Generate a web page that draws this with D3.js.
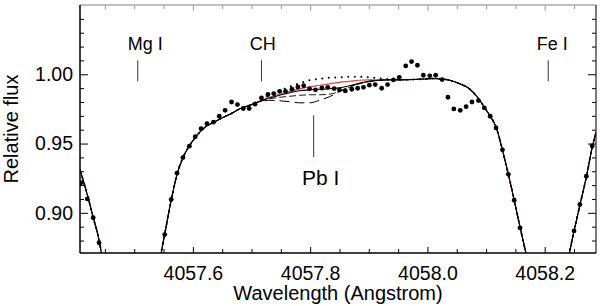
<!DOCTYPE html>
<meta charset="utf-8">

<!-- Load d3.js -->
<script src="https://d3js.org/d3.v7.min.js"></script>

<style>
  body { margin: 0; background: #fff; }
  text { font-family: "Liberation Sans", Arial, Helvetica, sans-serif; fill: #000; }
</style>

<!-- Create a div where the graph will take place -->
<div id="my_dataviz"></div>

<script>

// observed spectrum (wavelength in Angstrom, relative flux)
var obsWave = [4057.409, 4057.420, 4057.430, 4057.440,
  4057.552, 4057.563, 4057.573, 4057.583, 4057.594, 4057.604, 4057.614, 4057.624, 4057.635, 4057.645,
  4057.655, 4057.666, 4057.676, 4057.686, 4057.696, 4057.706, 4057.717, 4057.728, 4057.738, 4057.748,
  4057.758, 4057.769, 4057.779, 4057.789, 4057.799, 4057.809, 4057.820, 4057.830, 4057.841, 4057.850,
  4057.860, 4057.871, 4057.881, 4057.891, 4057.901, 4057.911, 4057.922, 4057.932, 4057.942, 4057.952,
  4057.963, 4057.973, 4057.983, 4057.993, 4058.004, 4058.014, 4058.025, 4058.035, 4058.045, 4058.056,
  4058.066, 4058.076, 4058.087, 4058.097, 4058.107, 4058.117, 4058.128, 4058.138, 4058.148, 4058.158,
  4058.250, 4058.260, 4058.271, 4058.281];
var obsFlux = [0.9217, 0.9100, 0.8965, 0.8784,
  0.8843, 0.9096, 0.9286, 0.9399, 0.9481, 0.9549, 0.9607, 0.9643, 0.9654, 0.9697,
  0.9740, 0.9800, 0.9781, 0.9753, 0.9753, 0.9784, 0.9829, 0.9854, 0.9861, 0.9877,
  0.9877, 0.9892, 0.9908, 0.9918, 0.9895, 0.9888, 0.9901, 0.9906, 0.9897, 0.9887,
  0.9880, 0.9892, 0.9899, 0.9906, 0.9921, 0.9926, 0.9899, 0.9926, 0.9959, 0.9978,
  1.0060, 1.0092, 1.0065, 0.9993, 0.9989, 0.9993, 0.9962, 0.9834, 0.9750, 0.9740,
  0.9766, 0.9800, 0.9810, 0.9758, 0.9697, 0.9613, 0.9455, 0.9278, 0.9091, 0.8891,
  0.8869, 0.9060, 0.9264, 0.9483];

// synthetic spectra: shared wings, different cores around the Pb I line
var wingLeftWave = [4057.405, 4057.409, 4057.421, 4057.429, 4057.440, 4057.444, 4057.452, 4057.493,
  4057.539, 4057.546, 4057.552, 4057.563, 4057.573, 4057.583, 4057.593, 4057.603, 4057.614,
  4057.624, 4057.634, 4057.644, 4057.654, 4057.665, 4057.680, 4057.697];
var wingLeftFlux = [0.934, 0.9288, 0.9115, 0.8983, 0.8802, 0.8709, 0.8478, 0.815,
  0.848, 0.8709, 0.8846, 0.9091, 0.9278, 0.9398, 0.9477, 0.9538, 0.9592,
  0.9628, 0.9650, 0.9672, 0.9693, 0.9715, 0.9751, 0.9776];

var coreWave = [4057.714, 4057.731, 4057.748, 4057.765, 4057.782, 4057.799, 4057.816,
  4057.833, 4057.850, 4057.867, 4057.884, 4057.901, 4057.918, 4057.935];
var coreBest = [0.9805, 0.9830, 0.9848, 0.9867, 0.9881, 0.9888, 0.9892, 0.9895, 0.9903, 0.9917, 0.9935, 0.9949, 0.9957, 0.9960];
var coreRed  = [0.9805, 0.9834, 0.9856, 0.9877, 0.9895, 0.9910, 0.9921, 0.9931, 0.9942, 0.9949, 0.9957, 0.9960, 0.9960, 0.9960];
var coreNoPb = [0.9812, 0.9852, 0.9881, 0.9910, 0.9935, 0.9957, 0.9968, 0.9975, 0.9978, 0.9982, 0.9982, 0.9978, 0.9971, 0.9964];
var coreMid  = [0.9802, 0.9823, 0.9834, 0.9841, 0.9848, 0.9852, 0.9852, 0.9856, 0.9877, 0.9906, 0.9931, 0.9949, 0.9957, 0.9960];
var coreHigh = [0.9802, 0.9812, 0.9809, 0.9802, 0.9794, 0.9794, 0.9812, 0.9838, 0.9874, 0.9910, 0.9935, 0.9949, 0.9957, 0.9960];

var wingRightWave = [4057.952, 4057.986, 4058.009, 4058.032, 4058.054, 4058.071, 4058.085, 4058.097,
  4058.106, 4058.117, 4058.128, 4058.138, 4058.148, 4058.158, 4058.168, 4058.182, 4058.204,
  4058.228, 4058.242, 4058.250, 4058.260, 4058.271, 4058.281, 4058.292];
var wingRightFlux = [0.9960, 0.9964, 0.9969, 0.9962, 0.9933, 0.9897, 0.9836, 0.9764,
  0.9704, 0.9620, 0.9452, 0.9278, 0.9091, 0.8896, 0.8709, 0.844, 0.830,
  0.844, 0.8709, 0.8867, 0.9055, 0.9257, 0.9473, 0.964];

// line identifications
var lineNames = ["Mg I", "CH", "Fe I"];
var lineWave  = [4057.506, 4057.717, 4058.206];
var labelWave = [4057.519, 4057.719, 4058.213];

// ticks
var xMajor = [4057.6, 4057.8, 4058.0, 4058.2];
var xMinor = [4057.45, 4057.5, 4057.55, 4057.65, 4057.7, 4057.75, 4057.85, 4057.9, 4057.95,
  4058.05, 4058.1, 4058.15, 4058.25];
var yMajor = [0.90, 0.95, 1.00];
var yMinor = [0.88, 0.89, 0.91, 0.92, 0.93, 0.94, 0.96, 0.97, 0.98, 0.99, 1.01, 1.02, 1.03, 1.04];

// set the dimensions and margins of the graph
var margin = {top: 5, right: 4, bottom: 53, left: 80},
    width = 600 - margin.left - margin.right,
    height = 306 - margin.top - margin.bottom;

var svg = d3.select("#my_dataviz")
  .append("svg")
    .attr("width", width + margin.left + margin.right)
    .attr("height", height + margin.top + margin.bottom)
  .append("g")
    .attr("transform", "translate(" + margin.left + "," + margin.top + ")");

var x = d3.scaleLinear().domain([4057.4075, 4058.2875]).range([0, width]);
var y = d3.scaleLinear().domain([0.871, 1.05]).range([height, 0]);

svg.append("clipPath").attr("id", "clip")
  .append("rect").attr("width", width).attr("height", height);

// axes, ticks pointing inward on all four sides
function tickAxis(axis, vals, size, cls) {
  return svg.append("g").attr("class", cls)
    .call(axis.tickValues(vals).tickSize(size).tickSizeOuter(0));
}

var fmtX = d3.format(".1f"), fmtY = d3.format(".2f");

var gx = tickAxis(d3.axisBottom(x).tickFormat(fmtX), xMajor, -6, "xaxis")
  .attr("transform", "translate(0," + height + ")");
gx.selectAll("text").attr("y", 27).attr("dy", 0).style("font-size", "19.5px");
tickAxis(d3.axisBottom(x).tickFormat(""), xMinor, -4, "xminor")
  .attr("transform", "translate(0," + height + ")");
tickAxis(d3.axisTop(x).tickFormat(""), xMajor, -6, "xtop");
tickAxis(d3.axisTop(x).tickFormat(""), xMinor, -4, "xtopminor");

var gy = tickAxis(d3.axisLeft(y).tickFormat(fmtY), yMajor, -8, "yaxis");
gy.selectAll("text").attr("x", -7).style("font-size", "19.5px");
tickAxis(d3.axisLeft(y).tickFormat(""), yMinor, -4, "yminor");
tickAxis(d3.axisRight(y).tickFormat(""), yMajor, -8, "yright")
  .attr("transform", "translate(" + width + ",0)");
tickAxis(d3.axisRight(y).tickFormat(""), yMinor, -4, "yrightminor")
  .attr("transform", "translate(" + width + ",0)");

svg.selectAll(".domain").remove();
svg.selectAll(".tick line").attr("stroke", "#000");
svg.selectAll(".xtop .tick line, .xtopminor .tick line").attr("stroke", "#999");

// frame
svg.append("line").attr("x1", 0).attr("x2", width).attr("y1", 0).attr("y2", 0)
  .attr("stroke", "#aaa").attr("stroke-width", 1.5);
svg.append("line").attr("x1", width).attr("x2", width).attr("y1", 0).attr("y2", height)
  .attr("stroke", "#222").attr("stroke-width", 1.2);
svg.append("line").attr("x1", 0).attr("x2", 0).attr("y1", 0).attr("y2", height)
  .attr("stroke", "#000").attr("stroke-width", 1.5);
svg.append("line").attr("x1", 0).attr("x2", width).attr("y1", height).attr("y2", height)
  .attr("stroke", "#000").attr("stroke-width", 1.5);

// axis titles
svg.append("text")
  .attr("x", width / 2).attr("y", 295)
  .attr("text-anchor", "middle").style("font-size", "20px")
  .text("Wavelength (Angstrom)");
svg.append("text")
  .attr("transform", "translate(" + (18 - margin.left) + "," + (height / 2) + ")rotate(-90)")
  .attr("text-anchor", "middle").style("font-size", "20px")
  .text("Relative flux");

// synthetic spectra
function model(core) {
  var pts = [];
  wingLeftWave.forEach(function(w, i) { pts.push([w, wingLeftFlux[i]]); });
  coreWave.forEach(function(w, i) { pts.push([w, core[i]]); });
  wingRightWave.forEach(function(w, i) { pts.push([w, wingRightFlux[i]]); });
  return pts;
}

var line = d3.line()
  .x(function(d) { return x(d[0]); })
  .y(function(d) { return y(d[1]); })
  .curve(d3.curveMonotoneX);

var plot = svg.append("g").attr("clip-path", "url(#clip)");

var models = [
  {core: coreRed,  color: "#e0454a", w: 1.2, dash: null},
  {core: coreBest, color: "#000", w: 1.1, dash: null},
  {core: coreMid,  color: "#000", w: 0.9, dash: "7,3"},
  {core: coreHigh, color: "#000", w: 1.0, dash: "10,5"},
  {core: coreNoPb, color: "#000", w: 2.0, dash: "0.01,6.5"}
];
models.forEach(function(m) {
  plot.append("path")
    .datum(model(m.core))
    .attr("fill", "none")
    .attr("stroke", m.color)
    .attr("stroke-width", m.w)
    .attr("stroke-linecap", m.dash && m.dash.indexOf("0.01") === 0 ? "round" : "butt")
    .attr("stroke-dasharray", m.dash)
    .attr("d", line);
});

// observed points
plot.selectAll("obs")
  .data(obsWave)
  .enter()
  .append("circle")
    .attr("cx", function(d) { return x(d); })
    .attr("cy", function(d, i) { return y(obsFlux[i]); })
    .attr("r", 2.4)
    .attr("fill", "#000");

// line identifications
lineNames.forEach(function(name, i) {
  svg.append("line")
    .attr("x1", x(lineWave[i])).attr("x2", x(lineWave[i]))
    .attr("y1", y(1.0101)).attr("y2", y(0.9949))
    .attr("stroke", "#000").attr("stroke-width", 0.8);
  svg.append("text")
    .attr("x", x(labelWave[i])).attr("y", y(1.0173))
    .attr("text-anchor", "middle").style("font-size", "18px")
    .text(name);
});

// Pb I
svg.append("line")
  .attr("x1", x(4057.806)).attr("x2", x(4057.806))
  .attr("y1", y(0.9704)).attr("y2", y(0.9401))
  .attr("stroke", "#000").attr("stroke-width", 0.8);
svg.append("text")
  .attr("x", x(4057.818)).attr("y", y(0.920))
  .attr("text-anchor", "middle").style("font-size", "21px")
  .text("Pb I");

</script>
